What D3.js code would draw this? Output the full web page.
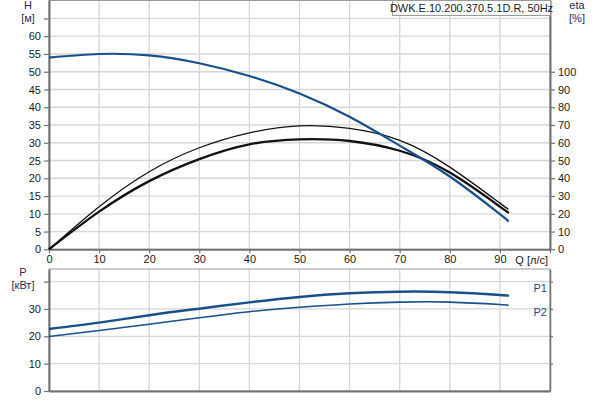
<!DOCTYPE html>
<html><head><meta charset="utf-8">
<script src="https://cdn.jsdelivr.net/npm/d3@7"></script>
<style>
html,body{margin:0;padding:0;background:#fff;}
svg text{font-family:"Liberation Sans",Arial,sans-serif;}
</style></head>
<body><svg id="c" width="600" height="400"></svg>
<script>
// ---- data ----
const qHead = [0,10,20,30,40,50,60,70,80,90,91.4];
const head  = [54.0,55.0,54.6,52.4,48.8,43.9,37.3,29.2,20.5,9.9,8.2];
const qEta  = [0,10,20,30,40,50,60,70,80,90,91.4];
const etaThin  = [0,24.0,43.7,57.2,65.6,69.5,68.1,61.4,46.3,26.0,23.3];
const etaThick = [0,21.2,38.4,50.8,59.1,61.9,61.0,55.5,43.2,24.0,21.3];
const qPow = [0,10,20,30,40,50,60,70,80,90,91.4];
const p1 = [22.7,25.0,27.7,30.1,32.4,34.4,35.7,36.3,36.1,35.1,34.9];
const p2 = [19.9,22.1,24.4,26.8,29.0,30.6,31.8,32.5,32.5,31.6,31.4];
const qTicks = [0,10,20,30,40,50,60,70,80,90];
const hTicks = [0,5,10,15,20,25,30,35,40,45,50,55,60];
const etaTicks = [0,10,20,30,40,50,60,70,80,90,100];
const pTicks = [0,10,20,30];
const title = "DWK.E.10.200.370.5.1D.R, 50Hz";

const BLUE = "#17508a", GRID = "#d6d6d6", AX = "#707070", TXT = "#1a1a1a";
const svg = d3.select("#c");
const L = 49, R = 550;
const x = d3.scaleLinear().domain([0,100]).range([L,R]);
const yH = d3.scaleLinear().domain([0,70.2]).range([249.3,0]);
const yE = d3.scaleLinear().domain([0,140.4]).range([249.3,0]);
const yP = d3.scaleLinear().domain([0,44.6]).range([391,269]);

function grid(yScale, yVals, top, bottom){
  const g = svg.append("g");
  g.selectAll(".v").data(d3.range(10,100,10)).join("line")
    .attr("x1",d=>x(d)).attr("x2",d=>x(d)).attr("y1",top).attr("y2",bottom)
    .attr("stroke",GRID).attr("stroke-width",1.3);
  g.selectAll(".h").data(yVals).join("line")
    .attr("x1",L).attr("x2",R).attr("y1",d=>yScale(d)).attr("y2",d=>yScale(d))
    .attr("stroke",GRID).attr("stroke-width",1.3);
}
grid(yH, d3.range(5,70,5), 0, 249.3);
grid(yP, [10,20,30,40], 269, 391);

// frames
svg.append("rect").attr("x",L).attr("y",0.5).attr("width",R-L).attr("height",248.8)
  .attr("fill","none").attr("stroke","#9a9a9a").attr("stroke-width",1);
svg.append("rect").attr("x",L).attr("y",269).attr("width",R-L).attr("height",122)
  .attr("fill","none").attr("stroke","#9a9a9a").attr("stroke-width",1);

function styleAxis(g){
  g.selectAll(".domain").attr("stroke",AX).attr("stroke-width",2);
  g.selectAll(".tick line").attr("stroke",AX).attr("stroke-width",1.2);
  g.selectAll(".tick text").attr("fill",TXT).attr("font-size",11)
    .style("font-family","'Liberation Sans',Arial,sans-serif");
}
// top plot axes
const axL = svg.append("g").attr("transform",`translate(${L},0)`)
  .call(d3.axisLeft(yH).tickValues(hTicks.concat([65])).tickSize(5).tickSizeOuter(0).tickPadding(3)
    .tickFormat(d=>d===65?"":d));
styleAxis(axL);
const axR = svg.append("g").attr("transform",`translate(${R},0)`)
  .call(d3.axisRight(yE).tickValues(etaTicks).tickSize(5).tickSizeOuter(0).tickPadding(3));
styleAxis(axR);
const axB = svg.append("g").attr("transform",`translate(0,249.3)`)
  .call(d3.axisBottom(x).tickValues(qTicks.concat([100])).tickSize(4).tickSizeOuter(0).tickPadding(2)
    .tickFormat(d=>d===100?"":d));
styleAxis(axB);
// bottom plot axes
const axPL = svg.append("g").attr("transform",`translate(${L},0)`)
  .call(d3.axisLeft(yP).tickValues(pTicks.concat([40])).tickSize(5).tickSizeOuter(0).tickPadding(3)
    .tickFormat(d=>d===40?"":d));
styleAxis(axPL);
const axPR = svg.append("g").attr("transform",`translate(${R},0)`)
  .call(d3.axisRight(yP).tickValues([10,20,30,40]).tickSize(3).tickSizeOuter(0).tickFormat(""));
styleAxis(axPR);
axPR.select(".domain").attr("stroke-width",1.5);
const axPB = svg.append("g").attr("transform",`translate(0,391)`)
  .call(d3.axisBottom(x).tickValues([]).tickSizeOuter(0));
styleAxis(axPB);

// labels
function txt(s,xx,yy,anchor,color){
  svg.append("text").attr("x",xx).attr("y",yy).attr("text-anchor",anchor||"middle")
    .attr("font-size",11).attr("fill",color||TXT).text(s);
}
txt("H",28,9,"middle","#1f2a5c");
txt("[м]",28,22,"middle","#3a2a5c");
txt("eta",577,9,"middle","#1f2a5c");
txt("[%]",577,22,"middle","#1f2a5c");
txt("Q [л/с]",548,264,"end");
txt("P",23,276,"middle","#1f2a5c");
txt("[кВт]",23,289,"middle","#1f2a5c");

// curves
const curve = d3.curveNatural;
function draw(qs, vs, ys, color, w){
  svg.append("path").datum(qs.map((q,i)=>[q,vs[i]]))
    .attr("d", d3.line().x(d=>x(d[0])).y(d=>ys(d[1])).curve(curve))
    .attr("fill","none").attr("stroke",color).attr("stroke-width",w)
    .attr("stroke-linecap","butt");
}
draw(qEta, etaThin, yE, "#111", 1.3);
draw(qEta, etaThick, yE, "#111", 2.3);
draw(qHead, head, yH, BLUE, 2.2);
draw(qPow, p2, yP, BLUE, 1.6);
draw(qPow, p1, yP, BLUE, 2.5);

txt("P1",547,292,"end",BLUE);
txt("P2",547,316,"end",BLUE);

// title box
const tb = svg.append("g");
tb.append("rect").attr("x",392.5).attr("y",0.5).attr("width",158).attr("height",15)
  .attr("fill","#fff").attr("stroke","#9a9a9a").attr("stroke-width",1);
tb.append("text").attr("x",471.5).attr("y",12).attr("text-anchor","middle")
  .attr("font-size",11).attr("fill",TXT).text(title);
</script></body></html>
